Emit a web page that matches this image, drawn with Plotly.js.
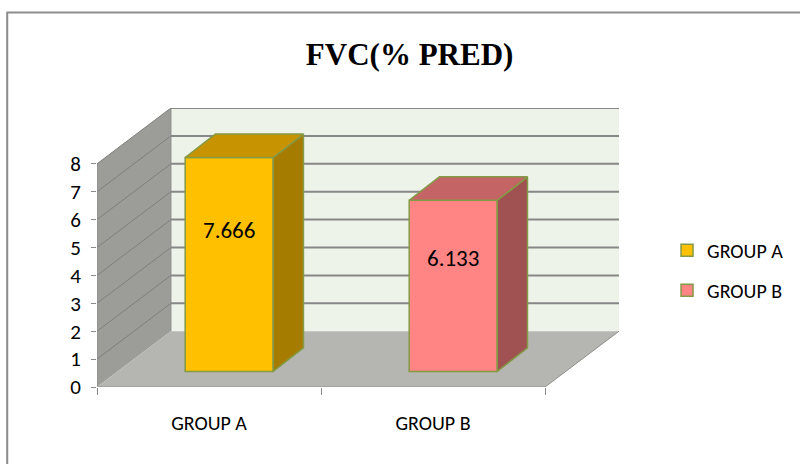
<!DOCTYPE html>
<html>
<head>
<meta charset="utf-8">
<script src="https://cdn.plot.ly/plotly-3.0.1.min.js"></script>
<style>html,body{margin:0;padding:0;background:#fff;}#chart{width:800px;height:464px;}</style>
</head>
<body>
<div id="chart"></div>
<script>
// ---- data ----
const categories = ['GROUP A', 'GROUP B'];
const values = [7.666, 6.133];
const labels = ['7.666', '6.133'];
const yTicks = [0, 1, 2, 3, 4, 5, 6, 7, 8];

// ---- styles / geometry ----
const frontColors = ['#FFC000', '#FF8585'];
const sideColors = ['#A67C00', '#A05252'];
const topColors = ['#C79300', '#C46464'];
const edgeColor = '#849A46';
const gridColor = '#878787';
const DX = 0.33, DY = 2.0;          // wall depth (x units, value units)
const XOFF = 0.09, YOFF = 0.56;     // bar front face depth offset
const BW = 0.393;                   // bar width
const BDX = 0.135, BDY = 0.84;      // bar depth
const YMAX = 8;
const font = 'Carlito, Lato, "Open Sans", sans-serif';

const traces = [];
const annotations = [];
categories.forEach((c, i) => {
  const xc = i + 0.5 + XOFF;
  traces.push({
    type: 'bar', name: c, x: [xc], y: [values[i]], base: [YOFF], width: [BW],
    marker: {color: frontColors[i], line: {color: edgeColor, width: 1.5}},
    legendgroup: 'g' + i, hoverinfo: 'skip'
  });
});
categories.forEach((c, i) => {
  const xc = i + 0.5 + XOFF;
  const x0 = xc - BW / 2, x1 = xc + BW / 2;
  const b = YOFF, t = YOFF + values[i];
  traces.push({
    type: 'scatter', mode: 'lines', showlegend: false, hoverinfo: 'skip',
    x: [x1, x1 + BDX, x1 + BDX, x1, x1], y: [b, b + BDY, t + BDY, t, b],
    fill: 'toself', fillcolor: sideColors[i], line: {color: edgeColor, width: 1.5}
  });
  traces.push({
    type: 'scatter', mode: 'lines', showlegend: false, hoverinfo: 'skip',
    x: [x0, x0 + BDX, x1 + BDX, x1, x0], y: [t, t + BDY, t + BDY, t, t],
    fill: 'toself', fillcolor: topColors[i], line: {color: edgeColor, width: 1.5}
  });
  annotations.push({
    x: xc, y: YOFF + values[i] * 0.66, xref: 'x', yref: 'y', text: labels[i],
    showarrow: false, font: {family: font, size: 23, color: '#000'}
  });
});
// tick-mark helper axis
traces.push({type: 'scatter', x: [0], y: [0], xaxis: 'x2', mode: 'markers',
  marker: {opacity: 0}, showlegend: false, hoverinfo: 'skip'});

const shapes = [];
// back wall
shapes.push({type: 'rect', layer: 'below', xref: 'x', yref: 'y', x0: DX, x1: 2 + DX, y0: DY, y1: DY + YMAX,
  fillcolor: '#EEF3EA', line: {width: 0}});
// left wall
shapes.push({type: 'path', layer: 'below', xref: 'x', yref: 'y',
  path: `M0,0 L${DX},${DY} L${DX},${DY + YMAX} L0,${YMAX} Z`, fillcolor: '#9C9D99', line: {width: 0}});
// floor
shapes.push({type: 'path', layer: 'below', xref: 'x', yref: 'y',
  path: `M0,0 L2,0 L${2 + DX},${DY} L${DX},${DY} Z`, fillcolor: '#B5B6B1', line: {width: 0}});
for (let k = 1; k <= YMAX; k++) {
  shapes.push({type: 'line', layer: 'below', xref: 'x', yref: 'y', x0: DX, x1: 2 + DX, y0: DY + k, y1: DY + k,
    line: {color: gridColor, width: 2}});
  shapes.push({type: 'line', layer: 'below', xref: 'x', yref: 'y', x0: 0, x1: DX, y0: k, y1: DY + k,
    line: {color: '#7E7F7C', width: 1}});
}
shapes.push({type: 'line', layer: 'below', xref: 'x', yref: 'y', x0: DX, x1: DX, y0: DY, y1: DY + YMAX,
  line: {color: '#8A8A8A', width: 1}});
shapes.push({type: 'line', layer: 'below', xref: 'x', yref: 'y', x0: 0, x1: 0, y0: 0, y1: YMAX,
  line: {color: '#8A8A8A', width: 1}});
shapes.push({type: 'line', layer: 'below', xref: 'x', yref: 'y', x0: 0, x1: 2, y0: 0, y1: 0,
  line: {color: '#A3A4A0', width: 2}});
shapes.push({type: 'line', layer: 'below', xref: 'x', yref: 'y', x0: 2, x1: 2 + DX, y0: 0, y1: DY,
  line: {color: '#8E8F8B', width: 1}});
// outer border
shapes.push({type: 'rect', xref: 'paper', yref: 'paper', x0: -0.172, x1: 1.37, y0: -0.31, y1: 1.342,
  line: {color: '#8C8C8C', width: 2}, fillcolor: 'rgba(0,0,0,0)'});

const layout = {
  width: 800, height: 464,
  margin: {l: 97, r: 181, t: 108, b: 77, autoexpand: false},
  paper_bgcolor: '#fff', plot_bgcolor: 'rgba(0,0,0,0)',
  title: {text: '<b>FVC(% PRED)</b>', x: 0.512, xanchor: 'center', y: 0.884, yanchor: 'middle',
    font: {family: '"Liberation Serif", "Times New Roman", serif', size: 31, color: '#000'}},
  barmode: 'overlay',
  xaxis: {range: [0, 2.33], tickvals: [0.5, 1.5], ticktext: categories, ticks: '', automargin: false,
    showgrid: false, zeroline: false, showline: false, ticklabelstandoff: 22,
    tickfont: {family: font, size: 20, color: '#000'}, fixedrange: true},
  xaxis2: {range: [0, 2.33], overlaying: 'x', anchor: 'y', side: 'bottom', tickvals: [0, 1, 2], automargin: false,
    ticks: 'outside', ticklen: 7, tickcolor: '#888', tickwidth: 1, showticklabels: false,
    showgrid: false, zeroline: false, showline: false},
  yaxis: {range: [0, 10], tickvals: yTicks, ticks: 'outside', ticklen: 5, tickcolor: '#888', automargin: false,
    showgrid: false, zeroline: false, showline: false, ticklabelstandoff: 6,
    tickfont: {family: font, size: 21, color: '#000'}},
  showlegend: true,
  legend: {x: 1.092, xanchor: 'left', y: 0.56, yanchor: 'top', traceorder: 'grouped', tracegroupgap: 11,
    font: {family: font, size: 20, color: '#000'}, bgcolor: 'rgba(0,0,0,0)'},
  shapes: shapes,
  annotations: annotations
};

Plotly.newPlot('chart', traces, layout, {displayModeBar: false, staticPlot: true});
</script>
</body>
</html>
